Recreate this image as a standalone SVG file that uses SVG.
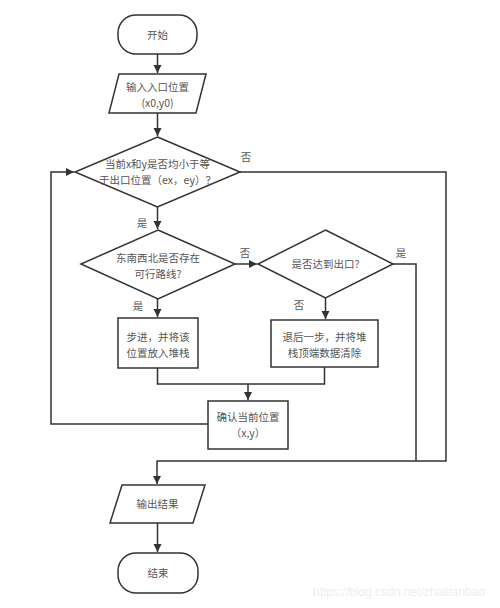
<svg xmlns="http://www.w3.org/2000/svg" width="500" height="608" viewBox="0 0 500 608">
<style>
.s{fill:#fff;stroke:#333;stroke-width:1.5}
.c{fill:none;stroke:#333;stroke-width:1.5}
text{font-family:"Noto Sans CJK SC","Microsoft YaHei",sans-serif;font-size:10.5px;fill:#555;text-anchor:middle}
.wm{fill:#eee;font-family:"Liberation Sans",sans-serif;font-size:12px;text-anchor:start}
</style>
<defs>
<marker id="a" markerWidth="10" markerHeight="10" refX="8" refY="4" orient="auto" markerUnits="userSpaceOnUse">
<path d="M0,0 L8,4 L0,8 Z" fill="#333"/>
</marker>
</defs>
<rect width="500" height="608" fill="#fff"/>
<g id="connectors">
<path class="c" d="M157.5,54 V73" marker-end="url(#a)"/>
<path class="c" d="M157.5,113 V136" marker-end="url(#a)"/>
<path class="c" d="M157.5,207 V229" marker-end="url(#a)"/>
<path class="c" d="M157.5,299 V317" marker-end="url(#a)"/>
<path class="c" d="M235,264 H257" marker-end="url(#a)"/>
<path class="c" d="M325.5,298 V319" marker-end="url(#a)"/>
<path class="c" d="M157.5,368 V384 H324.5 V367"/>
<path class="c" d="M248,384 V400" marker-end="url(#a)"/>
<path class="c" d="M208,424 H51 V172 H74" marker-end="url(#a)"/>
<path class="c" d="M240,172 H446 V461 H157 V484" marker-end="url(#a)"/>
<path class="c" d="M393,264 H416 V461"/>
<path class="c" d="M157.5,523 V552" marker-end="url(#a)"/>
</g>
<g id="labels">
<text x="246" y="161">否</text>
<text x="142" y="227">是</text>
<text x="245" y="257">否</text>
<text x="401" y="257">是</text>
<text x="138" y="310">是</text>
<text x="299" y="309">否</text>
</g>
<g id="start">
<rect class="s" x="118" y="15" width="79" height="39" rx="18"/>
<text x="157.5" y="38.5">开始</text>
</g>
<g id="input">
<path class="s" d="M119,74 H206 L196,113 H109 Z"/>
<text x="157.5" y="91">输入入口位置</text>
<text x="157.5" y="106.5">(x0,y0)</text>
</g>
<g id="cond1">
<path class="s" d="M157.5,137 L240,172 L157.5,207 L75,172 Z"/>
<text x="157.5" y="168">当前x和y是否均小于等</text>
<text x="157.5" y="183.5">于出口位置（ex，ey）？</text>
</g>
<g id="cond2">
<path class="s" d="M158,230 L235,264 L158,299 L81,264 Z"/>
<text x="158" y="262">东南西北是否存在</text>
<text x="158" y="277.5">可行路线?</text>
</g>
<g id="cond3">
<path class="s" d="M325.5,230 L393,264 L325.5,298 L258,264 Z"/>
<text x="325.5" y="268">是否达到出口?</text>
</g>
<g id="step">
<rect class="s" x="118" y="318" width="80" height="50"/>
<text x="158" y="341">步进，并将该</text>
<text x="158" y="356.5">位置放入堆栈</text>
</g>
<g id="back">
<rect class="s" x="271" y="320" width="107" height="47"/>
<text x="324.5" y="341">退后一步，并将堆</text>
<text x="324.5" y="356.5">栈顶端数据清除</text>
</g>
<g id="confirm">
<rect class="s" x="208" y="401" width="80" height="48"/>
<text x="248" y="421">确认当前位置</text>
<text x="248" y="436.5">（x,y）</text>
</g>
<g id="output">
<path class="s" d="M122,485 H205 L193,523 H110 Z"/>
<text x="157.5" y="507.5">输出结果</text>
</g>
<g id="end">
<rect class="s" x="118" y="553" width="80" height="40" rx="18"/>
<text x="158" y="576.5">结束</text>
</g>
<text class="wm" x="313" y="596">https://blog.csdn.net/zhaitianbao</text>
</svg>
